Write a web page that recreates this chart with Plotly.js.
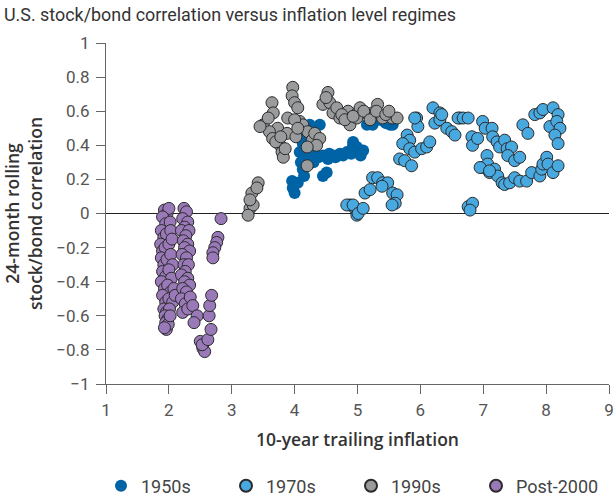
<!DOCTYPE html>
<html>
<head>
<meta charset="utf-8">
<script src="https://cdn.plot.ly/plotly-3.0.1.min.js"></script>
<style>html,body{margin:0;padding:0;background:#fff;}#chart{width:615px;height:496px;}</style>
</head>
<body>
<div id="chart"></div>
<script>
// Legend / series names
const seriesNames = ['1950s', '1970s', '1990s', 'Post-2000'];

// 1950s (x = 10-year trailing inflation, y = 24-month rolling stock/bond correlation)
const x1950s = [3.96,4.05,3.97,4.0,4.45,4.51,4.13,4.13,4.24,4.4,4.35,4.45,4.53,4.61,4.72,4.83,4.93,4.99,4.77,4.93,5.09,5.15,5.24,5.52,5.56,
  4.2,4.25,4.3,4.2,4.38,4.1,4.15,4.3,4.55,4.65,4.9,5.05,5.35,5.45,4.18,4.08];
const y1950s = [0.19,0.18,0.15,0.12,0.22,0.24,0.26,0.41,0.52,0.52,0.42,0.34,0.32,0.34,0.35,0.36,0.42,0.39,0.34,0.40,0.37,0.52,0.52,0.52,0.52,
  0.45,0.35,0.30,0.32,0.33,0.30,0.22,0.38,0.35,0.33,0.35,0.34,0.55,0.53,0.48,0.36];

// 1970s
const x1970s = [4.88,4.96,4.99,4.83,4.93,5.01,5.09,5.12,5.2,5.24,5.32,5.4,5.48,5.56,5.63,5.6,5.55,5.39,
  5.94,5.96,5.79,5.83,5.72,5.83,5.67,5.75,5.86,5.91,6.02,6.1,6.15,6.2,6.31,6.23,6.31,6.42,6.5,6.55,6.63,6.6,6.68,6.76,
  6.82,6.83,6.91,6.99,7.03,7.14,7.15,7.22,7.26,7.34,7.38,7.45,7.39,7.5,7.58,7.06,6.99,7.07,7.1,7.18,7.23,7.3,7.34,7.42,
  7.5,7.58,7.69,7.77,7.9,7.93,7.95,8.01,8.03,8.11,8.19,7.63,7.71,7.82,7.9,7.95,8.11,8.19,8.06,8.17,8.22,8.14,8.19,
  6.76,6.83,6.79,5.91,6.34,6.95,7.1];
const y1970s = [0.05,0.03,-0.01,0.05,0.05,0.00,0.03,0.12,0.14,0.21,0.21,0.18,0.18,0.12,0.11,0.06,0.05,0.16,
  0.56,0.51,0.46,0.43,0.41,0.38,0.32,0.31,0.28,0.36,0.38,0.39,0.42,0.62,0.59,0.53,0.55,0.50,0.48,0.46,0.56,0.56,0.56,0.56,
  0.45,0.40,0.44,0.54,0.50,0.50,0.45,0.42,0.39,0.43,0.38,0.39,0.34,0.31,0.33,0.34,0.27,0.29,0.24,0.26,0.22,0.18,0.17,0.18,
  0.21,0.19,0.19,0.24,0.22,0.26,0.29,0.33,0.29,0.24,0.28,0.52,0.47,0.58,0.59,0.61,0.62,0.58,0.51,0.54,0.50,0.46,0.41,
  0.04,0.06,0.02,0.56,0.58,0.27,0.25];

// 1990s
const x1990s = [3.29,3.34,3.32,3.42,3.4,3.26,3.29,3.5,3.64,3.66,3.58,3.73,3.77,3.8,3.88,3.89,3.97,3.96,4.0,4.05,4.08,4.13,
  4.21,4.28,4.32,4.4,4.35,4.2,4.2,4.45,4.53,4.56,4.61,4.67,4.72,4.85,4.88,5.0,5.04,5.17,4.99,5.24,5.32,5.4,5.55,5.63,
  3.6,3.65,3.7,3.82,3.78,3.85,3.45,4.75,4.8,4.93,5.1,5.2,5.3,5.45,5.5,4.5,4.0,4.02,4.05];
const y1990s = [0.03,0.05,0.12,0.18,0.15,-0.01,0.08,0.52,0.65,0.59,0.56,0.50,0.40,0.36,0.47,0.56,0.74,0.69,0.65,0.62,0.54,0.52,
  0.48,0.43,0.47,0.44,0.40,0.39,0.28,0.64,0.71,0.65,0.59,0.62,0.56,0.60,0.52,0.59,0.62,0.58,0.56,0.59,0.64,0.56,0.56,0.56,
  0.48,0.44,0.42,0.33,0.45,0.38,0.51,0.58,0.55,0.57,0.60,0.55,0.60,0.58,0.60,0.68,0.55,0.45,0.50];

// Post-2000
const xPost2000 = [1.93,1.97,2.0,1.9,1.95,2.02,1.88,1.92,1.96,2.03,1.87,1.9,1.94,2.0,2.05,1.88,1.92,1.97,2.03,2.06,1.9,1.95,2.0,2.04,
  1.88,1.93,1.98,2.03,2.08,1.9,1.95,2.0,2.06,2.1,1.92,1.96,2.01,1.94,1.98,1.95,1.97,1.96,1.99,2.02,1.93,
  2.24,2.28,2.22,2.3,2.25,2.2,2.32,2.27,2.23,2.3,2.25,2.33,2.21,2.28,2.24,2.31,2.26,2.2,2.3,2.25,2.33,2.22,2.28,2.2,2.26,2.22,2.3,
  2.34,2.38,2.45,2.4,2.5,2.54,2.57,2.53,2.62,2.67,2.64,2.65,2.68,
  2.83,2.78,2.76,2.73,2.7,2.7];
const yPost2000 = [0.02,0.00,0.03,-0.02,-0.06,-0.05,-0.10,-0.14,-0.12,-0.10,-0.18,-0.22,-0.20,-0.18,-0.15,-0.26,-0.30,-0.27,-0.24,-0.30,-0.34,-0.37,-0.33,-0.38,
  -0.40,-0.44,-0.42,-0.46,-0.44,-0.48,-0.52,-0.50,-0.52,-0.48,-0.56,-0.58,-0.56,-0.60,-0.62,-0.64,-0.66,-0.68,-0.65,-0.60,-0.67,
  0.03,0.01,-0.03,-0.05,-0.08,-0.10,-0.10,-0.13,-0.16,-0.18,-0.20,-0.22,-0.24,-0.26,-0.30,-0.30,-0.34,-0.36,-0.38,-0.40,-0.42,-0.44,-0.46,-0.50,-0.53,-0.58,-0.56,
  -0.49,-0.54,-0.60,-0.64,-0.75,-0.79,-0.81,-0.77,-0.74,-0.68,-0.60,-0.54,-0.48,
  -0.03,-0.14,-0.17,-0.20,-0.23,-0.26];

const seriesColors = ['#0063a5', '#48a9e0', '#9a9b9d', '#9a79b8'];
const outline = '#2b2b2b';

const xs = [x1950s, x1970s, x1990s, xPost2000];
const ys = [y1950s, y1970s, y1990s, yPost2000];

const traces = seriesNames.map((name, i) => ({
  type: 'scatter',
  mode: 'markers',
  name: name,
  x: xs[i],
  y: ys[i],
  marker: {
    size: 12,
    color: seriesColors[i],
    opacity: 1,
    line: i === 0 ? {width: 0} : {width: 1, color: outline}
  },
  hoverinfo: 'x+y+name'
}));

const fontFam = 'Roboto, "Liberation Sans", Arial, sans-serif';
const axisTitleFam = '"Open Sans", Roboto, Arial, sans-serif';

const layout = {
  width: 615,
  height: 496,
  margin: {l: 106, r: 6, t: 43, b: 112},
  paper_bgcolor: '#fff',
  plot_bgcolor: '#fff',
  font: {family: fontFam, color: '#333'},
  title: {
    text: 'U.S. stock/bond correlation versus inflation level regimes',
    font: {size: 17.9, color: '#333', family: fontFam},
    x: 4 / 615,
    xanchor: 'left',
    xref: 'container',
    y: 1 - 15 / 496,
    yanchor: 'middle',
    yref: 'container'
  },
  xaxis: {
    range: [1, 9],
    dtick: 1,
    tick0: 1,
    showgrid: false,
    zeroline: false,
    showline: true,
    linecolor: '#666',
    linewidth: 1,
    ticks: 'outside',
    ticklen: 9,
    tickcolor: '#666',
    ticklabelstandoff: 2,
    tickfont: {size: 17, color: '#555', family: fontFam},
    title: {text: '10-year trailing inflation', font: {size: 17.5, color: '#333', family: axisTitleFam, weight: 600}, standoff: 14},
    automargin: false,
    fixedrange: true
  },
  yaxis: {
    range: [-1, 1],
    dtick: 0.2,
    tick0: 0,
    showgrid: false,
    zeroline: true,
    zerolinecolor: '#222',
    zerolinewidth: 1.3,
    showline: true,
    linecolor: '#666',
    linewidth: 1,
    ticks: 'outside',
    ticklen: 9,
    tickcolor: '#666',
    ticklabelstandoff: 3,
    tickfont: {size: 17, color: '#555', family: fontFam},
    title: {text: '24-month rolling<br>stock/bond correlation', font: {size: 17.5, color: '#333', family: axisTitleFam, weight: 600}, standoff: 9},
    automargin: false,
    fixedrange: true
  },
  showlegend: true,
  legend: {
    orientation: 'h',
    x: 101 / 615,
    xref: 'container',
    xanchor: 'left',
    y: (496 - 486) / 496,
    yref: 'container',
    yanchor: 'middle',
    font: {size: 18, color: '#444', family: fontFam},
    entrywidth: 80,
    entrywidthmode: 'pixels',
    traceorder: 'normal',
    itemsizing: 'constant'
  }
};

Plotly.newPlot('chart', traces, layout, {displayModeBar: false, staticPlot: true});
</script>
</body>
</html>
